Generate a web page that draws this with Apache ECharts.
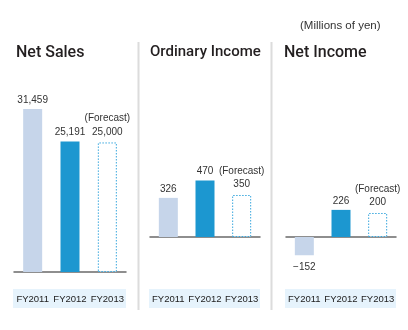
<!DOCTYPE html>
<html><head><meta charset="utf-8">
<script src="https://cdn.jsdelivr.net/npm/echarts@6/dist/echarts.min.js"></script>
<style>html,body{margin:0;padding:0;background:#fff}#c{width:408px;height:330px}</style>
</head><body><div id="c"></div>
<script>
const categories = ['FY2011', 'FY2012', 'FY2013'];
const titles = ['Net Sales', 'Ordinary Income', 'Net Income'];
const netSales = [31459, 25191, 25000];
const ordinaryIncome = [326, 470, 350];
const netIncome = [-152, 226, 200];
const unitNote = '(Millions of yen)';
const forecastNote = '(Forecast)';

const chart = echarts.init(document.getElementById('c'), null, {renderer: 'canvas'});
const font = '"Liberation Sans", Arial, sans-serif';
const grids = [
  {left: 14, width: 112, top: 101, height: 171},
  {left: 150, width: 110, top: 177, height: 60},
  {left: 286, width: 110, top: 201, height: 60}
];
const yRanges = [[0, 33000], [0, 500], [-200, 300]];
const labelMargins = [22, 57, 33];
const seriesData = [netSales, ordinaryIncome, netIncome];
const colors = ['#c6d5ea', '#1c97d0', '#ffffff'];

function fmt(v) {
  const s = Math.abs(v).toString().replace(/\B(?=(\d{3})+(?!\d))/g, ',');
  return v < 0 ? '\u2212' + s : s;
}

const series = [];
seriesData.forEach((arr, gi) => {
  series.push({
    type: 'bar', xAxisIndex: gi, yAxisIndex: gi, barWidth: 19,
    data: arr.map((v, i) => {
      const item = {
        value: v,
        itemStyle: i === 2
          ? {color: '#ffffff', borderColor: '#3aa8de', borderWidth: 1, borderType: [1.5, 1.5]}
          : {color: colors[i]},
        label: {show: true, position: v < 0 ? 'bottom' : 'top', distance: v < 0 ? 7 : 4,
          color: '#333', fontSize: 10, fontFamily: font,
          formatter: i === 2 ? '{f|' + forecastNote + '}\n{v|' + fmt(v) + '}' : fmt(v),
          rich: {f: {fontSize: 10, fontFamily: font, color: '#333', lineHeight: 14},
                 v: {fontSize: 10, fontFamily: font, color: '#333', lineHeight: 13}}}
      };
      return item;
    })
  });
});

const graphics = [];
// category bands
grids.forEach((g) => {
  graphics.push({type: 'rect', z: -1, shape: {x: g.left - 1, y: 289, width: g.width + 1, height: 19}, style: {fill: '#e6f3fc'}});
});
// dividers
[138.5, 271.5].forEach(x => graphics.push({type: 'line', shape: {x1: x, y1: 42, x2: x, y2: 310}, style: {stroke: '#dcdcdc', lineWidth: 2}}));
// titles
[[16, titles[0], 16], [150, titles[1], 15], [284, titles[2], 16]].forEach(([x, t, fs]) => {
  graphics.push({type: 'text', x: x, y: 45, style: {text: t, font: '500 ' + fs + 'px Roboto, sans-serif', fill: '#231f20'}});
});
graphics.push({type: 'text', x: 300, y: 20, style: {text: unitNote, font: '11.5px ' + font, fill: '#333'}});

chart.setOption({
  animation: false,
  grid: grids.map(g => Object.assign({containLabel: false}, g)),
  xAxis: grids.map((g, gi) => ({
    type: 'category', gridIndex: gi, data: categories,
    axisLine: {lineStyle: {color: '#6a6a6a', width: 1.5}},
    axisTick: {show: false},
    axisLabel: {interval: 0, hideOverlap: false, margin: labelMargins[gi], fontSize: 9.5, color: '#222', fontFamily: font}
  })),
  yAxis: grids.map((g, gi) => ({
    type: 'value', gridIndex: gi, min: yRanges[gi][0], max: yRanges[gi][1],
    show: false, splitLine: {show: false}
  })),
  series: series,
  graphic: graphics
});
</script></body></html>
